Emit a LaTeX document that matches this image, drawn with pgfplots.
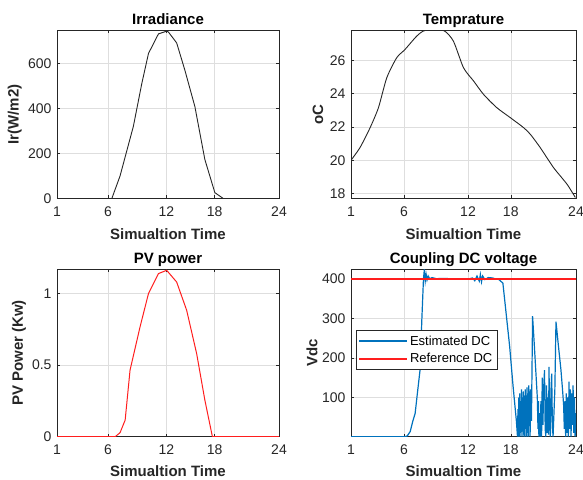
\documentclass[border=0pt]{standalone}
\usepackage{fontspec}
\setmainfont{Liberation Sans}
\usepackage{pgfplots}
\pgfplotsset{compat=1.18}
\definecolor{mblue}{RGB}{0,114,189}
\definecolor{mred}{RGB}{255,30,30}
\definecolor{mgray}{RGB}{38,38,38}

\pgfplotsset{
  panel/.style={
    scale only axis, anchor=south west,
    xmin=0, xmax=100,
    axis line style={mgray, line width=0.6pt},
    tick style={mgray, line width=0.5pt},
    major tick length=3pt,
    tick align=inside,
    grid=major,
    major grid style={black!13, line width=0.5pt},
    ticklabel style={font=\fontsize{14}{16}\selectfont, text=mgray},
    xticklabel style={yshift=-4.5pt},
    yticklabel style={xshift=-2pt},
    /pgf/number format/assume math mode=true,
    label style={font=\bfseries\fontsize{15}{17}\selectfont, text=mgray},
    title style={font=\bfseries\fontsize{15}{17}\selectfont, text=black,
      at={(axis description cs:0.5,1)}, anchor=base, yshift=-0.5pt},
    xlabel={Simualtion Time},
    xlabel style={at={(axis description cs:0.5,0)}, anchor=center, yshift=-36pt},
    scaled y ticks=false,
  },
  leftcol/.style={width=222pt, xtick={0,23,49.3,71,100}, xticklabels={1,6,12,18,24}},
  rightcol/.style={width=225pt, xtick={0,23.6,52,71,100}, xticklabels={1,6,12,18,24}},
  bottomrow/.style={height=167.4pt, xlabel style={yshift=2pt}},
}

\begin{document}
\begin{tikzpicture}
\useasboundingbox (0,0) rectangle (583pt,479pt);

% Irradiance
\begin{axis}[panel, leftcol, at={(57pt,280.5pt)}, height=168pt,
  title={Irradiance}, ylabel={Ir(W/m2)},
  ylabel style={at={(axis description cs:-0.19,0.5)}, anchor=center},
  ymin=0, ymax=745, ytick={0,200,400,600}]
\addplot[black!85, line width=0.9pt] coordinates {
 (0,0) (24.7,0) (28.4,100) (34.4,320) (38.2,510) (41.2,643) (45.7,730)
 (49.4,742) (50.2,738) (53.9,690) (57.6,569) (62.1,408) (66.6,173)
 (71.1,26) (74.9,0) (100,0)};
\end{axis}

% Temperature
\begin{axis}[panel, rightcol, at={(351pt,280.5pt)}, height=168pt,
  title={Temprature}, ylabel={oC},
  ylabel style={at={(axis description cs:-0.147,0.5)}, anchor=center},
  ymin=17.7, ymax=27.8, ytick={18,20,22,24,26}]
\addplot[black!85, line width=0.9pt, smooth, tension=0.4] coordinates {
 (0,20.0) (4,20.76) (8.5,21.96) (12.2,23.16) (15.9,24.96) (20.3,26.16)
 (24,26.66) (29.2,27.46) (32.9,27.8) (41.1,27.8) (45.5,27.16) (50,25.56)
 (54.5,24.76) (58.9,23.96) (64.8,23.16) (70.8,22.56) (76.7,21.96)
 (79.7,21.56) (84.1,20.76) (90,19.56) (96,18.56) (99.7,17.76)};
\end{axis}

% PV power
\begin{axis}[panel, leftcol, bottomrow, at={(57pt,42.3pt)},
  title={PV power}, ylabel={PV Power (Kw)},
  ylabel style={at={(axis description cs:-0.171,0.5)}, anchor=center},
  ymin=0, ymax=1.17, ytick={0,0.5,1}]
\addplot[color=mred, line width=1pt] coordinates {
 (0,0) (26.2,0) (28.4,0.028) (30.7,0.116) (32.9,0.465) (37.4,0.767)
 (41.2,1.0) (45.7,1.14) (49.4,1.163) (53.9,1.081) (58.4,0.884)
 (62.9,0.581) (66.6,0.256) (70,0) (100,0)};
\end{axis}

% Coupling DC voltage
\begin{axis}[panel, rightcol, bottomrow, at={(351pt,42.3pt)},
  title={Coupling DC voltage}, ylabel={Vdc},
  ylabel style={at={(axis description cs:-0.173,0.5)}, anchor=center},
  ymin=0, ymax=425, ytick={100,200,300,400},
  legend style={at={(rel axis cs:0.02,0.635)}, anchor=north west,
    draw=mgray, fill=white,
    font=\fontsize{13}{15}\selectfont, row sep=3pt, inner sep=3pt},
  legend cell align=left,
  legend image code/.code={\draw[#1] (0pt,0pt) -- (48pt,0pt);}]
\addplot[color=mblue, line width=1.2pt] coordinates {
 (0,0) (24,0) (25,2) (26.3,13) (27.5,40) (28.5,59) (29.5,110) (30.7,170)
 (31.5,300) (32.2,400) (32.6,425) (33,395) (33.4,412) (33.8,398) (34.3,408)
 (35,401) (36,404) (38,401) (40,402) (45,401) (50,401) (52,400) (54,403)
 (55,396) (56,408) (57,395) (57.5,412) (58,393) (58.5,408) (59.5,399)
 (61,404) (63,403) (64.5,400) (65.5,400) (66.5,395) (67.5,390) (69,310)
 (70.5,230) (72,130) (73.5,40)
 (74,0) (74.2,70) (74.4,0) (74.6,100) (74.8,0) (75,110) (75.2,10) (75.4,90)
 (75.6,0) (75.8,120) (76,15) (76.2,100) (76.4,0) (76.6,115) (76.8,5) (77,95)
 (77.2,0) (77.4,120) (77.6,20) (77.8,105) (78,0) (78.2,125) (78.4,10)
 (78.6,110) (78.8,0) (79,130) (79.2,30) (79.4,115) (79.6,0) (79.8,120)
 (80.2,40) (80.7,306) (81.5,230) (82.3,150) (82.8,100) (83.1,20) (83.3,90)
 (83.5,0) (83.8,60) (84.1,0) (84.4,90) (84.7,0) (85,150) (85.3,30) (85.6,120)
 (86,169) (86.3,20) (86.6,0) (86.9,130) (87.2,10) (87.5,100) (87.8,5)
 (88,177) (88.3,40) (88.6,0) (88.9,120) (89.2,160) (89.5,30) (89.8,0)
 (90.2,60) (90.6,120) (91.1,292) (92.2,230) (93.3,170) (94,120) (94.5,80)
 (94.8,20) (95.1,90) (95.4,0) (95.7,110) (96,10) (96.3,100) (96.6,0)
 (96.9,140) (97.2,20) (97.5,120) (97.8,0) (98.1,110) (98.4,30) (98.7,130)
 (99,10) (99.3,100) (99.6,0) (100,60)};
\addlegendentry{Estimated DC}
\addplot[color=mred, line width=1.3pt] coordinates {(0,400) (100,400)};
\addlegendentry{Reference DC}
\end{axis}
\end{tikzpicture}
\end{document}
